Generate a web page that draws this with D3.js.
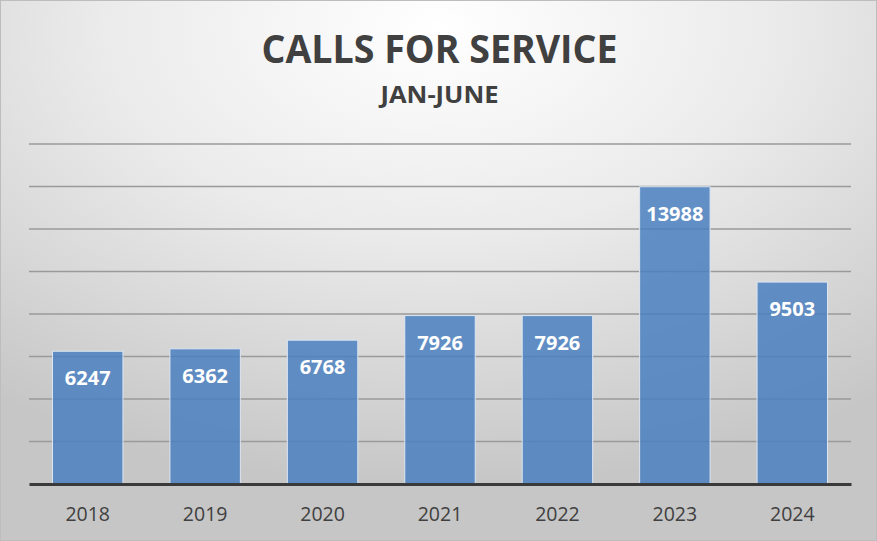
<!DOCTYPE html>
<html>
<head>
<meta charset="utf-8">
<script src="https://cdnjs.cloudflare.com/ajax/libs/d3/7.8.5/d3.min.js"></script>
<style>
  body { margin: 0; overflow: hidden; }
  svg { display: block; }
</style>
</head>
<body>
<div id="chart"></div>
<script>
const years = ["2018", "2019", "2020", "2021", "2022", "2023", "2024"];
const calls = [6247, 6362, 6768, 7926, 7926, 13988, 9503];
const gridTicks = [0, 2000, 4000, 6000, 8000, 10000, 12000, 14000, 16000];

const w = 877, h = 541;
const plotLeft = 29, plotRight = 851, plotTop = 144, plotBottom = 484;

const svg = d3.select("#chart").append("svg")
  .attr("width", w)
  .attr("height", h);

const defs = svg.append("defs");
const bg = defs.append("radialGradient")
  .attr("id", "bg")
  .attr("cx", "50%").attr("cy", "5%").attr("r", "85%")
  .attr("gradientUnits", "objectBoundingBox");
bg.append("stop").attr("offset", "0%").attr("stop-color", "#ffffff");
bg.append("stop").attr("offset", "45%").attr("stop-color", "#ebebeb");
bg.append("stop").attr("offset", "100%").attr("stop-color", "#c6c6c6");

svg.append("rect")
  .attr("x", 0.5).attr("y", 0.5)
  .attr("width", w - 1).attr("height", h - 1)
  .attr("fill", "url(#bg)")
  .attr("stroke", "#bdbdbd");

const x = d3.scaleBand()
  .domain(years)
  .range([plotLeft, plotRight])
  .paddingInner(0.4)
  .paddingOuter(0.2);

const y = d3.scaleLinear()
  .domain([0, 16000])
  .range([plotBottom, plotTop]);

// gridlines
svg.append("g")
  .selectAll("line")
  .data(gridTicks.slice(1))
  .enter()
  .append("line")
  .attr("x1", plotLeft)
  .attr("x2", plotRight)
  .attr("y1", d => y(d))
  .attr("y2", d => y(d))
  .attr("stroke", "#9a9a9a")
  .attr("stroke-width", 1.5);

// bars
svg.append("g")
  .selectAll("rect")
  .data(calls)
  .enter()
  .append("rect")
  .attr("x", (d, i) => x(years[i]))
  .attr("y", d => y(d))
  .attr("width", x.bandwidth())
  .attr("height", d => plotBottom - y(d))
  .attr("fill", "#4a80c0")
  .attr("fill-opacity", 0.85)
  .attr("stroke", "#dde6f2")
  .attr("stroke-width", 1);

// value labels
svg.append("g")
  .selectAll("text")
  .data(calls)
  .enter()
  .append("text")
  .attr("x", (d, i) => x(years[i]) + x.bandwidth() / 2)
  .attr("y", d => y(d) + 34)
  .attr("text-anchor", "middle")
  .attr("font-family", "'Open Sans', sans-serif")
  .attr("font-weight", "bold")
  .attr("font-size", 20)
  .attr("fill", "#ffffff")
  .text(d => d);

// x axis
const xAxis = d3.axisBottom(x).tickSize(0).tickPadding(23);
const gx = svg.append("g")
  .attr("transform", "translate(0," + plotBottom + ")")
  .call(xAxis);
gx.select(".domain")
  .attr("stroke", "#3a3a3a")
  .attr("stroke-width", 3);
gx.selectAll("text")
  .attr("font-family", "'Open Sans', sans-serif")
  .attr("font-size", 19.5)
  .attr("fill", "#404040");

// titles
svg.append("text")
  .attr("x", w / 2 + 1)
  .attr("y", 63)
  .attr("text-anchor", "middle")
  .attr("font-family", "'Open Sans', sans-serif")
  .attr("font-weight", "bold")
  .attr("font-size", 39)
  .attr("fill", "#404040")
  .attr("textLength", 356)
  .attr("lengthAdjust", "spacingAndGlyphs")
  .text("CALLS FOR SERVICE");

svg.append("text")
  .attr("x", w / 2 + 1)
  .attr("y", 103)
  .attr("text-anchor", "middle")
  .attr("font-family", "'Open Sans', sans-serif")
  .attr("font-weight", "bold")
  .attr("font-size", 24)
  .attr("fill", "#404040")
  .attr("textLength", 118)
  .attr("lengthAdjust", "spacingAndGlyphs")
  .text("JAN-JUNE");
</script>
</body>
</html>
